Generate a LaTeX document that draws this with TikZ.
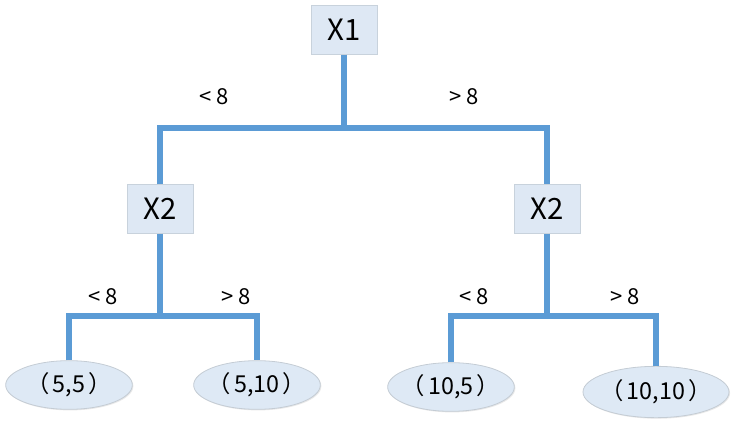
\documentclass[tikz,border=0pt]{standalone}
\usepackage{fontspec}
\setmainfont{Noto Sans CJK SC}
\usetikzlibrary{shapes.geometric,shadows}
\definecolor{linec}{HTML}{5B9BD5}
\definecolor{boxfill}{HTML}{DEE8F4}
\definecolor{boxdraw}{HTML}{C8D2DC}
\definecolor{ellfill}{HTML}{DEE9F5}
\definecolor{elldraw}{HTML}{C4CCD4}
\newcommand{\pair}[1]{\makebox[0pt]{（\kern2.5pt #1\kern2.5pt）}}
\tikzset{
  vbox/.style={draw=boxdraw, fill=boxfill, line width=0.6pt, minimum width=49.5pt, minimum height=36.5pt, inner sep=0pt, font=\fontsize{22}{26}\selectfont,
    drop shadow={opacity=0.18, shadow xshift=0.8pt, shadow yshift=-0.8pt}},
  leaf/.style={ellipse, draw=elldraw, fill=ellfill, line width=0.6pt, minimum width=95pt, minimum height=36.5pt, inner sep=0pt, font=\fontsize{17.5}{20}\selectfont,
    drop shadow={opacity=0.18, shadow xshift=0.8pt, shadow yshift=-0.8pt}},
  conn/.style={draw=linec, line width=4.5pt, line join=miter},
  lab/.style={font=\fontsize{16.5}{19}\selectfont, inner sep=0pt}
}
\begin{document}
\begin{tikzpicture}[x=0.75pt, y=-0.75pt]
\useasboundingbox (0,0) rectangle (736,428);
% nodes
\node[vbox] (x1) at (344,30) {X1};
\node[vbox] (x2l) at (160,209) {X2};
\node[vbox] (x2r) at (547,209) {X2};
\node[leaf] (l1) at (69,385) {\pair{5,5}};
\node[leaf] (l2) at (257,385) {\pair{5,10}};
\node[leaf] (l3) at (451,387) {\pair{10,5}};
\node[leaf, minimum width=109.5pt, minimum height=38.5pt] (l4) at (656,392) {\pair{10,10}};
% junctions
\coordinate (j1) at (344,128);
\coordinate (j2) at (160,316);
\coordinate (j3) at (547,316);
% connectors
\draw[conn] (x1.south) -- (j1);
\draw[conn] (x2l.north) |- (j1) -| (x2r.north);
\draw[conn] (x2l.south) -- (j2);
\draw[conn] (l1.north) |- (j2) -| (l2.north);
\draw[conn] (x2r.south) -- (j3);
\draw[conn] (l3.north) |- (j3) -| (l4.north);
% labels
\node[lab] (t1) at (214,97) {< 8};
\node[lab] (t2) at (464,97) {> 8};
\node[lab] (t3) at (103,297) {< 8};
\node[lab] (t4) at (236,297) {> 8};
\node[lab] (t5) at (474,297) {< 8};
\node[lab] (t6) at (625,297) {> 8};
\end{tikzpicture}
\end{document}
